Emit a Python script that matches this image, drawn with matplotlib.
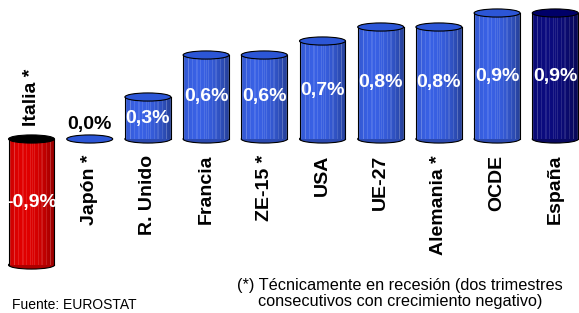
import numpy as np
import matplotlib.pyplot as plt
from matplotlib.patches import Ellipse
from matplotlib.colors import to_rgb

plt.rcParams['font.family'] = ['Liberation Sans', 'DejaVu Sans']

paises = ['Italia *', 'Japón *', 'R. Unido', 'Francia', 'ZE-15 *', 'USA',
          'UE-27', 'Alemania *', 'OCDE', 'España']
valores = [-0.9, 0.0, 0.3, 0.6, 0.6, 0.7, 0.8, 0.8, 0.9, 0.9]
etiquetas = ['-0,9%', '0,0%', '0,3%', '0,6%', '0,6%', '0,7%', '0,8%', '0,8%', '0,9%', '0,9%']
colores = ['#e60000'] + ['#3a63ea'] * 8 + ['#0c0c82']
tapas = ['#000000'] + ['#2c56d6'] * 8 + ['#000068']

W, H = 579, 313
ANCHO = 0.79
ELIPSE = 0.058


def cilindro(ax, x, v, color, tapa):
    rgb = np.array(to_rgb(color))
    y0, y1 = min(0, v), max(0, v)
    if v == 0:
        ax.add_patch(Ellipse((x, 0), ANCHO, ELIPSE, facecolor=tapa,
                             edgecolor='black', lw=0.8, zorder=3))
        return
    # base, solo se ve la mitad inferior
    ax.add_patch(Ellipse((x, y0), ANCHO, ELIPSE, facecolor=rgb * 0.75,
                         edgecolor='black', lw=0.8, zorder=1))
    # cuerpo con sombreado y rayas claras
    n = 46
    k = np.arange(n)
    t = np.linspace(0, 1, n)
    shade = 1.0 - 0.35 * t ** 3 - 0.12 * (1 - t) ** 6
    stripes = np.where(k % 4 == 1, 0.12, 0.0) + np.where(k % 9 == 5, 0.10, 0.0)
    img = rgb[None, :] * shade[:, None]
    img = img + (1 - img) * stripes[:, None]
    ax.imshow(img[None, :, :], extent=(x - ANCHO / 2, x + ANCHO / 2, y0, y1),
              aspect='auto', interpolation='bilinear', zorder=2)
    ax.plot([x - ANCHO / 2, x - ANCHO / 2], [y0, y1], color='black', lw=0.8, zorder=2.5)
    ax.plot([x + ANCHO / 2, x + ANCHO / 2], [y0, y1], color='black', lw=0.8, zorder=2.5)
    # tapa
    ax.add_patch(Ellipse((x, y1), ANCHO, ELIPSE, facecolor=tapa,
                         edgecolor='black', lw=0.8, zorder=3))


fig = plt.figure(figsize=(W / 100, H / 100), dpi=100)
ax = fig.add_axes([0, 0, 1, 1])
ax.axis('off')
# x_px = 31.5 + 58.2*i ; y_px = 139 - 140*v
ax.set_xlim(-31.5 / 58.2, (W - 31.5) / 58.2)
ax.set_ylim((139 - H) / 140, 139 / 140)

for i, (p, v, e, c, tp) in enumerate(zip(paises, valores, etiquetas, colores, tapas)):
    cilindro(ax, i, v, c, tp)
    if v == 0:
        ax.text(i, 0.107, e, ha='center', va='center', fontsize=14,
                fontweight='bold', color='black', zorder=4)
    else:
        ax.text(i, v / 2, e, ha='center', va='center', fontsize=14,
                fontweight='bold', color='white', zorder=4)
    if v < 0:
        ax.text(i, 0.093, p, ha='center', va='bottom', rotation=90,
                fontsize=14, fontweight='bold', zorder=4)
    else:
        ax.text(i, -0.114, p, ha='center', va='top', rotation=90,
                fontsize=14, fontweight='bold', zorder=4)

fig.text(12 / W, 1 - 305 / H, 'Fuente: EUROSTAT', fontsize=10,
         ha='left', va='center')
fig.text(400 / W, 1 - 293.5 / H,
         '(*) Técnicamente en recesión (dos trimestres\nconsecutivos con crecimiento negativo)',
         fontsize=11.7, ha='center', va='center', linespacing=1.05)

fig.savefig('out.png', dpi=100)
